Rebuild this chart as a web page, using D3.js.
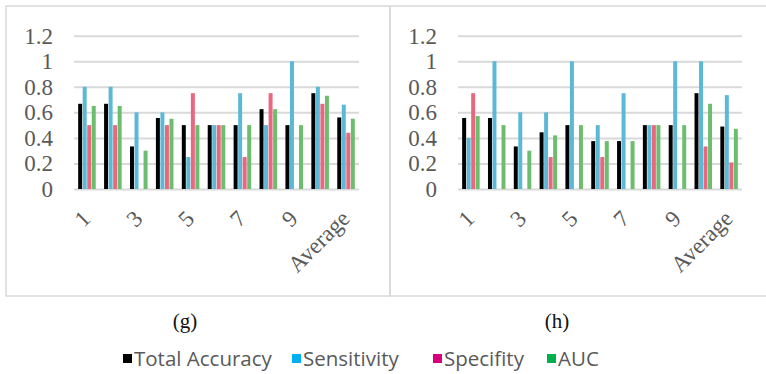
<!DOCTYPE html>
<html>
<head>
<meta charset="utf-8">
<script src="https://cdn.jsdelivr.net/npm/d3@7"></script>
<style>
  html, body { margin: 0; padding: 0; background: #fff; }
  svg { display: block; }
  .serif { font-family: "Liberation Serif", "Times New Roman", Times, serif; }
</style>
</head>
<body>
<svg id="chart" width="766" height="374"></svg>
<script>
// Fold categories and series
const categories = ["1", "2", "3", "4", "5", "6", "7", "8", "9", "10", "Average"];
const seriesNames = ["Total Accuracy", "Sensitivity", "Specifity", "AUC"];
const tickValues = [0, 0.2, 0.4, 0.6, 0.8, 1, 1.2];
const tickLabels = ["0", "0.2", "0.4", "0.6", "0.8", "1", "1.2"];

// Panel (g)
const gAccuracy    = [0.667, 0.667, 0.333, 0.556, 0.5, 0.5, 0.5, 0.625, 0.5, 0.75, 0.56];
const gSensitivity = [0.8, 0.8, 0.6, 0.6, 0.25, 0.5, 0.75, 0.5, 1.0, 0.8, 0.66];
const gSpecifity   = [0.5, 0.5, 0, 0.5, 0.75, 0.5, 0.25, 0.75, 0, 0.667, 0.44];
const gAUC         = [0.65, 0.65, 0.3, 0.55, 0.5, 0.5, 0.5, 0.625, 0.5, 0.73, 0.55];

// Panel (h)
const hAccuracy    = [0.556, 0.556, 0.333, 0.444, 0.5, 0.375, 0.375, 0.5, 0.5, 0.75, 0.489];
const hSensitivity = [0.4, 1.0, 0.6, 0.6, 1.0, 0.5, 0.75, 0.5, 1.0, 1.0, 0.735];
const hSpecifity   = [0.75, 0, 0, 0.25, 0, 0.25, 0, 0.5, 0, 0.333, 0.208];
const hAUC         = [0.571, 0.5, 0.3, 0.42, 0.5, 0.375, 0.375, 0.5, 0.5, 0.667, 0.471];

const barColors = ["#000000", "#5bb8d6", "#e8687f", "#6cbe6e"];
const legendColors = ["#000000", "#00b0f0", "#d6007e", "#00b050"];

const svg = d3.select("#chart");
const gridColor = "#d9d9d9";
const textGray = "#595959";

function drawPanel(cfg) {
  const { frame, plot, title, series } = cfg;

  // outer border
  svg.append("rect")
    .attr("x", frame.x).attr("y", frame.y)
    .attr("width", frame.w).attr("height", frame.h)
    .attr("fill", "none").attr("stroke", gridColor).attr("stroke-width", 1.5);

  const y = d3.scaleLinear().domain([0, 1.2]).range([plot.bottom, plot.top]);
  const x = d3.scaleBand().domain(categories).range([plot.left, plot.right])
    .paddingInner(0.28).paddingOuter(0.14);
  const xs = d3.scaleBand().domain(seriesNames).range([0, x.bandwidth()]).padding(0.12);

  const g = svg.append("g");

  // gridlines and value labels
  const yAxis = d3.axisLeft(y).tickValues(tickValues)
    .tickFormat((d, i) => tickLabels[i])
    .tickSize(-(plot.right - plot.left)).tickPadding(21);
  const ya = g.append("g").attr("transform", `translate(${plot.left},0)`).call(yAxis)
    .attr("font-family", null).attr("font-size", null);
  ya.select(".domain").remove();
  ya.selectAll(".tick line").attr("stroke", gridColor).attr("stroke-width", 2);
  ya.selectAll(".tick text")
    .attr("class", "serif")
    .attr("fill", textGray)
    .style("font-size", "23px");

  // bars
  const rows = categories.map((c, i) => ({ c, vals: series.map(s => s[i]) }));
  const groups = g.selectAll(".grp").data(rows).enter().append("g")
    .attr("transform", d => `translate(${x(d.c)},0)`);
  groups.selectAll("rect")
    .data(d => d.vals.map((v, k) => ({ v, k })))
    .enter().append("rect")
    .filter(d => d.v > 0)
    .attr("x", d => xs(seriesNames[d.k]))
    .attr("width", xs.bandwidth())
    .attr("y", d => y(d.v))
    .attr("height", d => y(0) - y(d.v))
    .attr("fill", d => barColors[d.k]);

  // category labels (every other)
  const xAxis = d3.axisBottom(x).tickSize(0).tickFormat(d => d);
  const xa = g.append("g").attr("transform", `translate(0,${plot.bottom})`).call(xAxis)
    .attr("font-family", null).attr("font-size", null);
  xa.select(".domain").remove();
  xa.selectAll(".tick").filter((d, i) => i % 2 === 1).remove();
  xa.selectAll(".tick text")
    .attr("class", "serif")
    .attr("fill", textGray)
    .style("font-size", "23px")
    .attr("text-anchor", "end")
    .attr("dy", null)
    .attr("y", 0)
    .attr("transform", "translate(5,31) rotate(-45)");

  // panel title
  svg.append("text")
    .attr("class", "serif")
    .attr("x", title.x).attr("y", title.y)
    .attr("text-anchor", "middle")
    .style("font-size", "21px")
    .attr("fill", "#111")
    .text(title.text);
}

drawPanel({
  frame: { x: 6, y: 6, w: 384, h: 290 },
  plot: { left: 74, right: 359, top: 35.7, bottom: 189 },
  title: { x: 185, y: 328, text: "(g)" },
  series: [gAccuracy, gSensitivity, gSpecifity, gAUC]
});

drawPanel({
  frame: { x: 390, y: 6, w: 380, h: 290 },
  plot: { left: 458, right: 742, top: 35.7, bottom: 189 },
  title: { x: 557, y: 328, text: "(h)" },
  series: [hAccuracy, hSensitivity, hSpecifity, hAUC]
});

// shared legend
const legendX = [123, 292, 433, 547];
const legend = svg.append("g");
seriesNames.forEach((name, i) => {
  legend.append("rect")
    .attr("x", legendX[i]).attr("y", 354)
    .attr("width", 9).attr("height", 9)
    .attr("fill", legendColors[i]);
  legend.append("text")
    .attr("x", legendX[i] + 11).attr("y", 366)
    .attr("fill", textGray)
    .style("font-family", "'Open Sans', 'Noto Sans', sans-serif")
    .style("font-size", "20.5px")
    .text(name);
});
</script>
</body>
</html>
